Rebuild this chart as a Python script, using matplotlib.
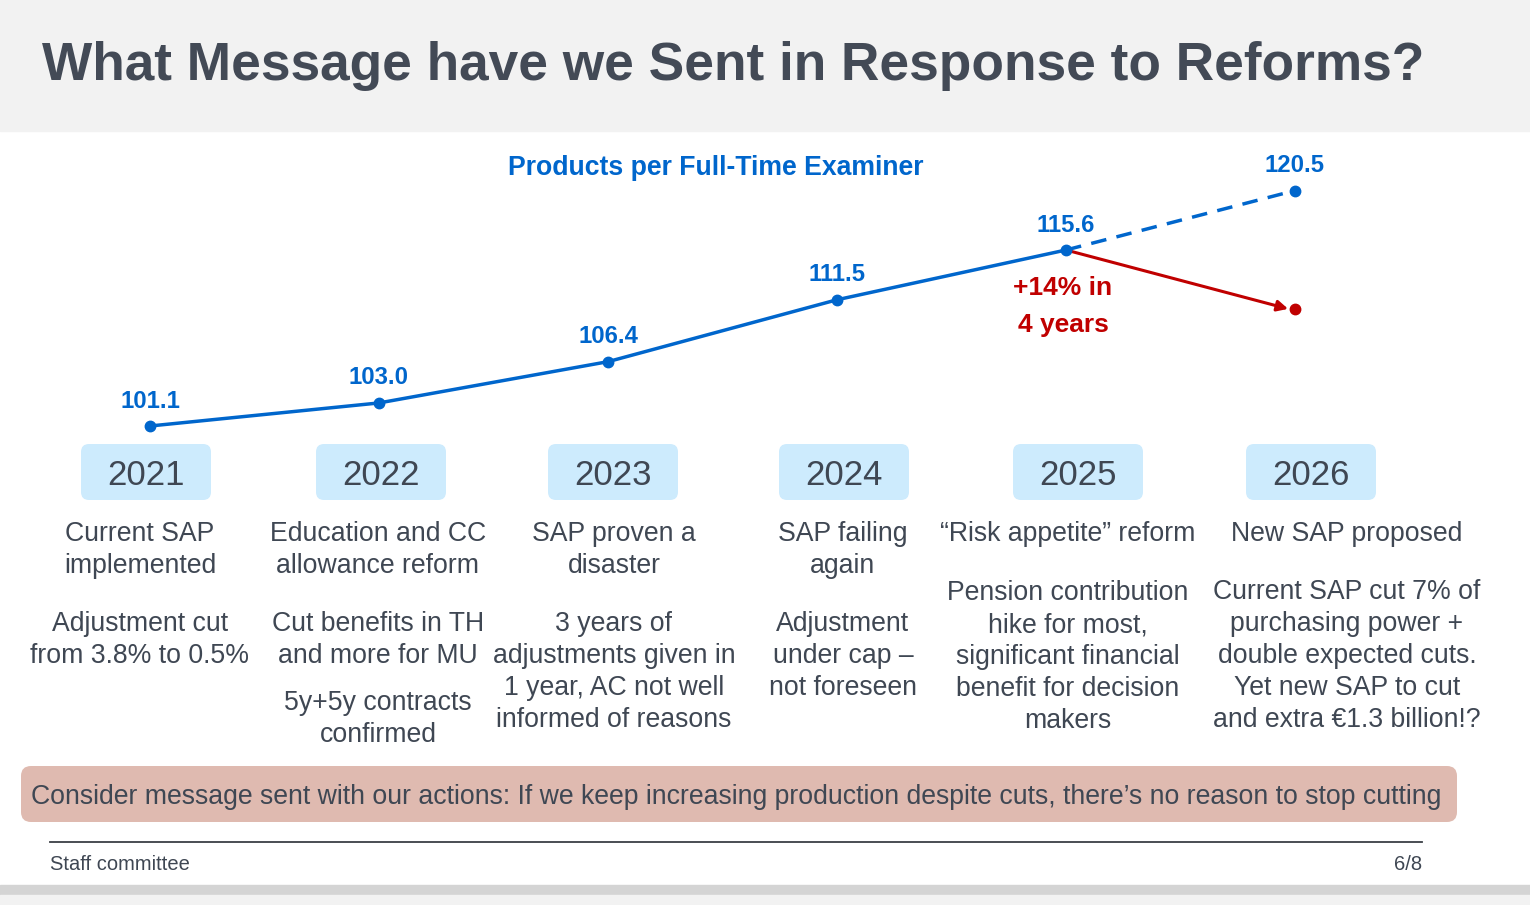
import matplotlib
matplotlib.use("Agg")
import matplotlib.pyplot as plt
from matplotlib.patches import FancyBboxPatch, Rectangle

# ---------------- data ----------------
years = [2021, 2022, 2023, 2024, 2025]
values = [101.1, 103.0, 106.4, 111.5, 115.6]
proj_year = 2026
proj_value = 120.5
cut_value = 110.7
year_labels = ["2021", "2022", "2023", "2024", "2025", "2026"]

headlines = [
    ["Current SAP", "implemented"],
    ["Education and CC", "allowance reform"],
    ["SAP proven a", "disaster"],
    ["SAP failing", "again"],
    ["\u201cRisk appetite\u201d reform"],
    ["New SAP proposed"],
]
details = [
    [["Adjustment cut", "from 3.8% to 0.5%"]],
    [["Cut benefits in TH", "and more for MU"], ["5y+5y contracts", "confirmed"]],
    [["3 years of", "adjustments given in", "1 year, AC not well", "informed of reasons"]],
    [["Adjustment", "under cap \u2013", "not foreseen"]],
    [["Pension contribution", "hike for most,", "significant financial", "benefit for decision", "makers"]],
    [["Current SAP cut 7% of", "purchasing power +", "double expected cuts.", "Yet new SAP to cut", "and extra \u20ac1.3 billion!?"]],
]

title = "What Message have we Sent in Response to Reforms?"
chart_title = "Products per Full-Time Examiner"
growth_note = ["+14% in", "4 years"]
message = "Consider message sent with our actions: If we keep increasing production despite cuts, there\u2019s no reason to stop cutting"
footer_left = "Staff committee"
footer_right = "6/8"

# ---------------- style ----------------
plt.rcParams['font.family'] = ['Liberation Sans', 'DejaVu Sans']
BLUE = "#0066cc"
RED = "#c00000"
DARK = "#3f4753"
BOX = "#cdebfd"
BODY = 19.2

W, H = 1530, 905
fig = plt.figure(figsize=(W / 100, H / 100), dpi=100)

# pixel-space axis for layout elements
bg = fig.add_axes([0, 0, 1, 1])
bg.set_xlim(0, W)
bg.set_ylim(H, 0)
bg.axis("off")

bg.add_patch(Rectangle((0, 0), W, 131, color="#f2f2f2", zorder=0))
bg.add_patch(Rectangle((0, 885), W, 10, color="#d4d4d4", zorder=0))
bg.add_patch(Rectangle((0, 895), W, 10, color="#f2f2f2", zorder=0))
bg.text(42, 66, title, fontsize=38.3, fontweight="bold", color="#434a56",
        ha="left", va="center")

# chart title
bg.text(716, 168, chart_title, fontsize=19.2, fontweight="bold", color=BLUE,
        ha="center", va="center")

# year boxes
box_centers = [146, 381, 613, 844, 1078, 1311]
for cx, lab in zip(box_centers, year_labels):
    bg.add_patch(FancyBboxPatch((cx - 65, 444), 130, 56,
                                boxstyle="round,pad=0,rounding_size=8",
                                facecolor=BOX, edgecolor="none", zorder=1))
    bg.text(cx, 475, lab, fontsize=25, color=DARK, ha="center", va="center", zorder=2)

# text columns
col_centers = [140, 378, 614, 843, 1068, 1347]
detail_starts = [
    [624],
    [624, 703],
    [624],
    [624],
    [593],
    [592],
]
STEP = 32
for cx, head, dets, starts in zip(col_centers, headlines, details, detail_starts):
    for i, line in enumerate(head):
        bg.text(cx, 534 + i * STEP, line, fontsize=BODY, color=DARK,
                ha="center", va="center")
    for block, y0 in zip(dets, starts):
        for i, line in enumerate(block):
            bg.text(cx, y0 + i * STEP, line, fontsize=BODY, color=DARK,
                    ha="center", va="center")

# message box
bg.add_patch(FancyBboxPatch((21, 766), 1436, 56,
                            boxstyle="round,pad=0,rounding_size=10",
                            facecolor="#dfbab0", edgecolor="none", zorder=1))
bg.text(31, 797, message, fontsize=19.2, color=DARK, ha="left", va="center", zorder=2)

# footer
bg.plot([50, 1422], [842, 842], color="#3a3f45", lw=1.3)
bg.text(50, 864, footer_left, fontsize=14.5, color=DARK, ha="left", va="center")
bg.text(1422, 864, footer_right, fontsize=14.5, color=DARK, ha="right", va="center")

# ---------------- data axis ----------------
ax = fig.add_axes([0, 0, 1, 1])
ax.patch.set_alpha(0)
ax.axis("off")
px_per_year = 229.0
x0_px = 150.0
px_per_unit = 176.0 / (115.6 - 101.1)
y0_px = 426.0
ax.set_xlim(years[0] - x0_px / px_per_year, years[0] + (W - x0_px) / px_per_year)
ax.set_ylim(values[0] - (H - y0_px) / px_per_unit, values[0] + y0_px / px_per_unit)

ax.plot(years, values, color=BLUE, lw=2.5, marker="o", ms=7.5, zorder=3)
ax.plot([years[-1], proj_year], [values[-1], proj_value], color=BLUE, lw=2.5,
        ls=(0, (4.5, 3)), zorder=3)
ax.plot([proj_year], [proj_value], "o", color=BLUE, ms=7.5, zorder=4)

ax.annotate("", xy=(proj_year - 0.03, cut_value + 0.05), xytext=(years[-1], values[-1]),
            arrowprops=dict(arrowstyle="-|>", color=RED, lw=2.2,
                            mutation_scale=16, shrinkA=0, shrinkB=0), zorder=2)
ax.plot([proj_year], [cut_value], "o", color=RED, ms=7.5, zorder=4)

for x, v in zip(years + [proj_year], values + [proj_value]):
    ax.annotate(f"{v:.1f}", (x, v), xytext=(0, 25), textcoords="offset pixels",
                ha="center", va="center", fontsize=17.2, fontweight="bold",
                color=BLUE)

ax.annotate(growth_note[0], (years[-1], values[-1]), xytext=(-3, -38),
            textcoords="offset pixels", ha="center", va="center",
            fontsize=19, fontweight="bold", color=RED)
ax.annotate(growth_note[1], (years[-1], values[-1]), xytext=(-3, -75),
            textcoords="offset pixels", ha="center", va="center",
            fontsize=19, fontweight="bold", color=RED)

fig.savefig("out.png", dpi=100)
